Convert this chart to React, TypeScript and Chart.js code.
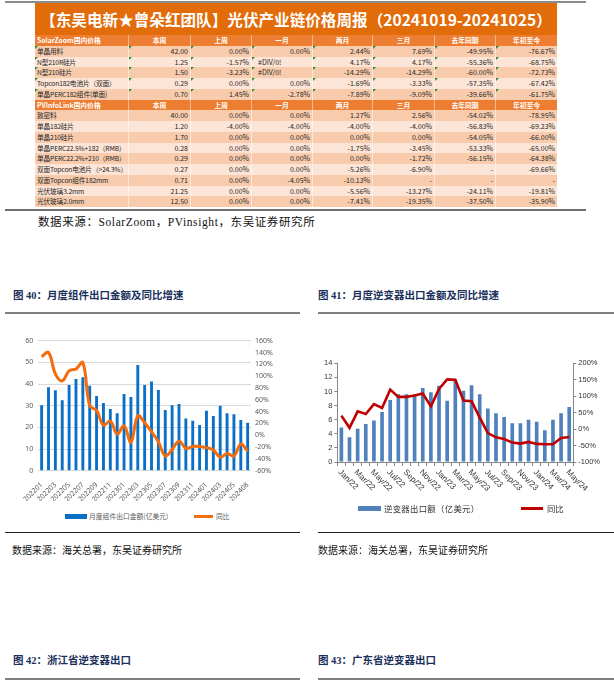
import React, { useEffect, useRef } from "react";
import { Chart, registerables } from "chart.js";

Chart.register(...registerables);

// ---------- Table data ----------
const tableTitle = "【东吴电新★曾朵红团队】光伏产业链价格周报（20241019-20241025）";
const periodHeaders = ["本周", "上周", "一月", "两月", "三月", "去年同期", "年初至今"];
const solarZoomHeader = "SolarZoom国内价格";
const pvInfoHeader = "PVInfoLink国内价格";
const solarZoomRows: string[][] = [
  ["单晶用料", "42.00", "0.00%", "0.00%", "2.44%", "7.69%", "-49.95%", "-76.67%"],
  ["N型210R硅片", "1.25", "-1.57%", "#DIV/0!", "4.17%", "4.17%", "-55.36%", "-68.75%"],
  ["N型210硅片", "1.50", "-3.23%", "#DIV/0!", "-14.29%", "-14.29%", "-60.00%", "-72.73%"],
  ["Topcon182电池片（双面）", "0.29", "0.00%", "0.00%", "-1.69%", "-3.33%", "-57.35%", "-67.42%"],
  ["单晶PERC182组件(单面)", "0.70", "1.45%", "-2.78%", "-7.89%", "-9.09%", "-39.66%", "-61.75%"],
];
const pvInfoRows: string[][] = [
  ["致密料", "40.00", "0.00%", "0.00%", "1.27%", "2.56%", "-54.02%", "-78.95%"],
  ["单晶182硅片", "1.20", "-4.00%", "-4.00%", "-4.00%", "-4.00%", "-56.83%", "-69.23%"],
  ["单晶210硅片", "1.70", "0.00%", "0.00%", "0.00%", "0.00%", "-54.05%", "-66.00%"],
  ["单晶PERC22.5%+182（RMB）", "0.28", "0.00%", "0.00%", "-1.75%", "-3.45%", "-53.33%", "-65.00%"],
  ["单晶PERC22.2%+210（RMB）", "0.29", "0.00%", "0.00%", "0.00%", "-1.72%", "-56.15%", "-64.38%"],
  ["双面Topcon电池片（>24.3%）", "0.27", "0.00%", "0.00%", "-5.26%", "-6.90%", "-", "-69.66%"],
  ["双面Topcon组件182mm", "0.71", "0.00%", "-4.05%", "-10.13%", "-", "-", "-"],
  ["光伏玻璃3.2mm", "21.25", "0.00%", "0.00%", "-5.56%", "-13.27%", "-24.11%", "-19.81%"],
  ["光伏玻璃2.0mm", "12.50", "0.00%", "0.00%", "-7.41%", "-19.35%", "-37.50%", "-35.90%"],
];

// ---------- Chart 40 data ----------
const moduleMonths = [
  "202201", "202202", "202203", "202204", "202205", "202206", "202207", "202208", "202209", "202210", "202211", "202212",
  "202301", "202302", "202303", "202304", "202305", "202306", "202307", "202308", "202309", "202310", "202311", "202312",
  "202401", "202402", "202403", "202404", "202405", "202406", "202408",
];
const moduleExport = [
  30.2, 38.5, 37.1, 32.5, 39.5, 42.3, 43.1, 39.2, 34.5, 31.2, 28.5, 26.5,
  35.4, 34.0, 48.8, 39.5, 41.2, 37.3, 28.0, 30.2, 30.8, 24.1, 23.1, 21.1,
  27.7, 25.3, 30.0, 26.5, 26.1, 23.4, 22.1,
];
const moduleYoY = [
  133, 140, 104, 92, 109, 112, 123, 50, 42, 17, 24, 2,
  16, -12, 33, 21, 6, -11, -35, -24, -10, -22, -19, -19,
  -21, -25, -37, -31, -35, -15, -27,
];
const moduleBarLabel = "月度组件出口金额(亿美元)";
const yoyLabel = "同比";

// ---------- Chart 41 data ----------
const inverterMonths = [
  "Jan/22", "Feb/22", "Mar/22", "Apr/22", "May/22", "Jun/22", "Jul/22", "Aug/22", "Sep/22", "Oct/22", "Nov/22", "Dec/22",
  "Jan/23", "Feb/23", "Mar/23", "Apr/23", "May/23", "Jun/23", "Jul/23", "Aug/23", "Sep/23", "Oct/23", "Nov/23", "Dec/23",
  "Jan/24", "Feb/24", "Mar/24", "Apr/24", "May/24",
];
const inverterExport = [
  4.9, 3.5, 4.7, 5.4, 5.9, 7.1, 8.8, 9.6, 9.6, 9.6, 10.5, 9.9,
  10.8, 8.7, 11.7, 10.1, 10.9, 9.6, 7.6, 6.9, 6.4, 5.5, 5.5, 6.0,
  5.7, 4.5, 6.0, 6.9, 7.8,
];
const inverterYoY = [
  41, 4, 54, 46, 76, 64, 120, 98, 98, 102, 108, 69,
  122, 151, 150, 87, 85, 35, -12, -25, -30, -41, -44, -39,
  -45, -46, -46, -27, -24,
];
const inverterBarLabel = "逆变器出口额（亿美元）";

const CJK = '"Noto Sans CJK SC", sans-serif';
const SERIF = '"Liberation Serif", "Noto Sans CJK SC", serif';

const colWidths = [94, 62, 61, 61, 60, 62, 61, 61];
const ROW_H = 10.75;

function HeaderRow({ first }: { first: string }) {
  const cells = [first, ...periodHeaders];
  return (
    <div style={{ display: "flex", height: ROW_H, background: "#ED7D31" }}>
      {cells.map((c, i) => (
        <div
          key={i}
          style={{
            width: colWidths[i],
            boxSizing: "border-box",
            borderRight: i < 7 ? "1px solid rgba(255,255,255,0.45)" : "none",
            color: "#fff",
            fontWeight: 700,
            fontSize: 6.8,
            lineHeight: ROW_H + "px",
            textAlign: i === 0 ? "left" : "center",
            paddingLeft: i === 0 ? 2 : 0,
            whiteSpace: "nowrap",
            overflow: "hidden",
          }}
        >
          {c}
        </div>
      ))}
    </div>
  );
}

function DataRow({ row, idx, marks }: { row: string[]; idx: number; marks: boolean }) {
  const bg = idx % 2 === 0 ? "#F8CBAD" : "#FCE4D6";
  return (
    <div style={{ display: "flex", height: ROW_H, background: bg }}>
      {row.map((c, i) => (
        <div
          key={i}
          style={{
            position: "relative",
            width: colWidths[i],
            boxSizing: "border-box",
            borderRight: i < 7 ? "1px solid rgba(255,255,255,0.55)" : "none",
            color: "#262626",
            fontSize: i === 0 ? 6.7 : 7,
            letterSpacing: i === 0 ? -0.15 : 0,
            lineHeight: ROW_H + "px",
            textAlign: i === 0 || c === "#DIV/0!" ? "left" : "right",
            padding: c === "#DIV/0!" ? "0 2px 0 6px" : "0 2px",
            whiteSpace: "nowrap",
            overflow: i === 0 ? "visible" : "hidden",
          }}
        >
          {marks && (
            <div
              style={{
                position: "absolute",
                left: 0,
                top: 0,
                width: 0,
                height: 0,
                borderTop: "3px solid #2E8B2E",
                borderRight: "3px solid transparent",
              }}
            />
          )}
          {c}
        </div>
      ))}
    </div>
  );
}

function PriceTable() {
  return (
    <div style={{ position: "absolute", left: 35, top: 3, width: 522, fontFamily: CJK }}>
      <div
        style={{
          height: 32,
          background: "#E26B0A",
          color: "#fff",
          fontWeight: 700,
          fontSize: 15.6,
          lineHeight: "32px",
          textAlign: "center",
          whiteSpace: "nowrap",
        }}
      >
        {tableTitle}
      </div>
      <HeaderRow first={solarZoomHeader} />
      {solarZoomRows.map((r, i) => (
        <DataRow key={"s" + i} row={r} idx={i} marks={true} />
      ))}
      <HeaderRow first={pvInfoHeader} />
      {pvInfoRows.map((r, i) => (
        <DataRow key={"p" + i} row={r} idx={i} marks={false} />
      ))}
    </div>
  );
}

function ModuleChart() {
  const ref = useRef<HTMLCanvasElement | null>(null);
  useEffect(() => {
    if (!ref.current) return;
    const tickFont = { family: '"Noto Sans", sans-serif', size: 7 };
    const chart = new Chart(ref.current, {
      type: "bar",
      data: {
        labels: moduleMonths,
        datasets: [
          {
            type: "line",
            label: yoyLabel,
            data: moduleYoY,
            yAxisID: "y1",
            borderColor: "#F36C0E",
            borderWidth: 3,
            pointRadius: 0,
            tension: 0.4,
            order: 1,
          } as any,
          {
            type: "bar",
            label: moduleBarLabel,
            data: moduleExport,
            yAxisID: "y",
            backgroundColor: "#0B6FC6",
            barPercentage: 0.42,
            categoryPercentage: 1,
            order: 2,
          },
        ],
      },
      options: {
        animation: false,
        responsive: false,
        maintainAspectRatio: false,
        layout: { padding: { top: 22.7, bottom: 7.3, left: 0, right: 0 } },
        plugins: { legend: { display: false }, tooltip: { enabled: false } },
        scales: {
          x: {
            grid: { display: false },
            border: { display: false },
            ticks: {
              autoSkip: false,
              minRotation: 45,
              maxRotation: 45,
              padding: 2,
              font: tickFont,
              color: "#595959",
              callback: (_v: any, i: number) => (i % 2 === 0 ? moduleMonths[i] : ""),
            },
            afterFit: (s: any) => {
              s.height = 30;
            },
          },
          y: {
            position: "left",
            min: 0,
            max: 60,
            ticks: { stepSize: 10, padding: 5, font: tickFont, color: "#595959" },
            grid: { color: "#D9D9D9", drawTicks: false },
            border: { display: false },
            afterFit: (s: any) => {
              s.width = 38.2;
            },
          },
          y1: {
            position: "right",
            min: -60,
            max: 160,
            ticks: {
              stepSize: 20,
              padding: 4,
              font: tickFont,
              color: "#595959",
              callback: (v: any) => v + "%",
            },
            grid: { display: false, drawTicks: false },
            border: { display: false },
            afterFit: (s: any) => {
              s.width = 48.9;
            },
          },
        },
      } as any,
    });
    return () => chart.destroy();
  }, []);
  return (
    <>
      <canvas ref={ref} width={300} height={190} style={{ position: "absolute", left: 0, top: 318 }} />
      <div style={{ position: "absolute", left: 65, top: 514, width: 22, height: 4.5, background: "#0B6FC6" }} />
      <div
        style={{
          position: "absolute",
          left: 89,
          top: 510,
          fontSize: 6.8,
          lineHeight: "12px",
          color: "#595959",
          fontFamily: CJK,
          whiteSpace: "nowrap",
        }}
      >
        {moduleBarLabel}
      </div>
      <div style={{ position: "absolute", left: 194, top: 514.5, width: 19, height: 3, background: "#F36C0E" }} />
      <div
        style={{
          position: "absolute",
          left: 216,
          top: 510,
          fontSize: 6.8,
          lineHeight: "12px",
          color: "#595959",
          fontFamily: CJK,
        }}
      >
        {yoyLabel}
      </div>
    </>
  );
}

const rotatedXLabels = {
  id: "rotatedXLabels",
  afterDraw(chart: any) {
    const xs = chart.scales.x;
    const ctx = chart.ctx;
    ctx.save();
    ctx.font = '8.2px "Liberation Sans", sans-serif';
    ctx.fillStyle = "#333333";
    ctx.textAlign = "left";
    ctx.textBaseline = "middle";
    inverterMonths.forEach((lab, i) => {
      if (i % 2 !== 0) return;
      const x = xs.getPixelForTick(i);
      ctx.save();
      ctx.translate(x - 2, xs.top + 9);
      ctx.rotate(Math.PI / 4);
      ctx.fillText(lab, 0, 0);
      ctx.restore();
    });
    ctx.restore();
  },
};

function InverterChart() {
  const ref = useRef<HTMLCanvasElement | null>(null);
  useEffect(() => {
    if (!ref.current) return;
    const tickFont = { family: '"Liberation Sans", sans-serif', size: 7.5 };
    const axisGrey = "#868686";
    const chart = new Chart(ref.current, {
      type: "bar",
      data: {
        labels: inverterMonths,
        datasets: [
          {
            type: "line",
            label: yoyLabel,
            data: inverterYoY,
            yAxisID: "y1",
            borderColor: "#C00000",
            borderWidth: 2.6,
            pointRadius: 0,
            tension: 0,
            order: 1,
          } as any,
          {
            type: "bar",
            label: inverterBarLabel,
            data: inverterExport,
            yAxisID: "y",
            backgroundColor: "#4F81BD",
            barPercentage: 0.45,
            categoryPercentage: 1,
            order: 2,
          },
        ],
      },
      options: {
        animation: false,
        responsive: false,
        maintainAspectRatio: false,
        layout: { padding: { top: 23.3, bottom: 43, left: 0, right: 0 } },
        plugins: { legend: { display: false }, tooltip: { enabled: false } },
        scales: {
          x: {
            ticks: { display: false },
            grid: { drawOnChartArea: false, drawTicks: true, tickLength: 4, color: axisGrey },
            border: { display: true, color: axisGrey },
            afterFit: (s: any) => {
              s.height = 5;
            },
          },
          y: {
            position: "left",
            min: 0,
            max: 14,
            ticks: { stepSize: 2, padding: 2, font: tickFont, color: "#333333" },
            grid: { drawOnChartArea: false, drawTicks: true, tickLength: 3, color: axisGrey },
            border: { display: true, color: axisGrey },
            afterFit: (s: any) => {
              s.width = 32.3;
            },
          },
          y1: {
            position: "right",
            min: -100,
            max: 200,
            ticks: {
              stepSize: 50,
              padding: 2,
              font: tickFont,
              color: "#333333",
              callback: (v: any) => v + "%",
            },
            grid: { drawOnChartArea: false, drawTicks: true, tickLength: 3, color: axisGrey },
            border: { display: true, color: axisGrey },
            afterFit: (s: any) => {
              s.width = 40.7;
            },
          },
        },
      } as any,
      plugins: [rotatedXLabels],
    });
    return () => chart.destroy();
  }, []);
  return (
    <>
      <canvas ref={ref} width={309} height={170} style={{ position: "absolute", left: 305, top: 340 }} />
      <div style={{ position: "absolute", left: 358, top: 505.5, width: 23, height: 5, background: "#4F81BD" }} />
      <div
        style={{
          position: "absolute",
          left: 384,
          top: 502,
          fontSize: 8.4,
          lineHeight: "12px",
          color: "#333",
          fontFamily: CJK,
          whiteSpace: "nowrap",
          letterSpacing: 0.3,
        }}
      >
        {inverterBarLabel}
      </div>
      <div style={{ position: "absolute", left: 521, top: 506.5, width: 22, height: 3, background: "#C00000" }} />
      <div
        style={{
          position: "absolute",
          left: 547,
          top: 502,
          fontSize: 8.4,
          lineHeight: "12px",
          color: "#333",
          fontFamily: CJK,
        }}
      >
        {yoyLabel}
      </div>
    </>
  );
}

function Line({ x1, x2, y, h, color }: { x1: number; x2: number; y: number; h: number; color: string }) {
  return <div style={{ position: "absolute", left: x1, top: y, width: x2 - x1, height: h, background: color }} />;
}

function Text({ x, y, size, bold, color, spacing, children }: any) {
  return (
    <div
      style={{
        position: "absolute",
        left: x,
        top: y,
        fontSize: size,
        fontWeight: bold ? 700 : 400,
        color,
        fontFamily: SERIF,
        whiteSpace: "nowrap",
        lineHeight: "14px",
        letterSpacing: spacing || 0,
      }}
    >
      {children}
    </div>
  );
}

export default function App() {
  const titleColor = "#1B2F5B";
  return (
    <div
      style={{
        position: "absolute",
        left: 0,
        top: 0,
        width: 614,
        height: 691,
        background: "#fff",
        overflow: "hidden",
      }}
    >
      <Line x1={5} x2={586} y={1} h={2} color="#8C8C8C" />
      <PriceTable />
      <Line x1={5} x2={586} y={209} h={2} color="#6F6F6F" />
      <Text x={38} y={215} size={11.5} color="#111" spacing={0.6}>
        数据来源：SolarZoom，PVinsight，东吴证券研究所
      </Text>

      <Text x={13} y={289} size={10.5} bold color={titleColor}>
        图 40：月度组件出口金额及同比增速
      </Text>
      <Text x={318} y={289} size={10.5} bold color={titleColor}>
        图 41：月度逆变器出口金额及同比增速
      </Text>
      <Line x1={5} x2={300} y={312} h={2} color="#7F7F7F" />
      <Line x1={318} x2={614} y={312} h={2} color="#7F7F7F" />

      <ModuleChart />
      <InverterChart />

      <Line x1={5} x2={300} y={532} h={1.2} color="#222" />
      <Line x1={318} x2={614} y={532} h={1.2} color="#222" />
      <Text x={12} y={544} size={10} color="#111">
        数据来源：海关总署，东吴证券研究所
      </Text>
      <Text x={318} y={544} size={10} color="#111">
        数据来源：海关总署，东吴证券研究所
      </Text>

      <Text x={13} y={654} size={10.5} bold color={titleColor}>
        图 42：浙江省逆变器出口
      </Text>
      <Text x={318} y={654} size={10.5} bold color={titleColor}>
        图 43：广东省逆变器出口
      </Text>
      <Line x1={5} x2={300} y={678} h={2} color="#7F7F7F" />
      <Line x1={318} x2={614} y={678} h={2} color="#7F7F7F" />
    </div>
  );
}
